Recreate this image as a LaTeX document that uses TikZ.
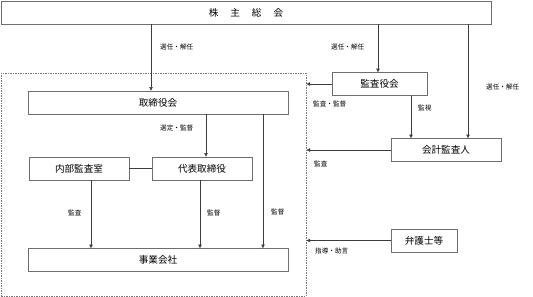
\documentclass[tikz,border=0pt]{standalone}
\usepackage{fontspec}
\newfontfamily\jp{Noto Sans CJK JP}
\usetikzlibrary{arrows.meta, positioning}
\definecolor{DG}{RGB}{60,60,60}
\definecolor{BD}{RGB}{110,110,110}

\begin{document}
\begin{tikzpicture}[x=1pt, y=-1pt,
  box/.style={draw=BD, line width=0.8pt, fill=white,
              minimum width=#1, minimum height=23pt, inner sep=0pt,
              font=\jp\fontsize{9.6}{10}\selectfont},
  arr/.style={-{Triangle[length=3.5pt, width=3.5pt]}, line width=0.5pt, draw=DG},
  lnk/.style={line width=0.5pt, draw=DG},
  lbl/.style={font=\jp\fontsize{6.6}{7}\selectfont, text=black, anchor=west, inner sep=0pt},
  grpbox/.style={draw=DG!70, dashed, dash pattern=on 1.5pt off 1pt, line width=0.6pt}
]
\useasboundingbox (0,0) rectangle (533,297);

% Group (dashed)
\node[grpbox, minimum width=305pt, minimum height=223pt, inner sep=0pt, anchor=north west]
  (grp) at (1,73) {};

% Boxes
\node[box=490pt]  (top)  at (246,12.5)  {株\hspace{12pt}主\hspace{12pt}総\hspace{12pt}会};
\node[box=260pt]  (board) at (158,102.5) {取締役会};
\node[box=95pt]   (audit) at (379.5,84)  {監査役会};
\node[box=110pt]  (acct)  at (446,150)   {会計監査人};
\node[box=100pt]  (inner) at (79,168.5)  {内部監査室};
\node[box=100pt]  (rep)   at (202,168.5) {代表取締役};
\node[box=260pt]  (biz)   at (158,260)   {事業会社};
\node[box=66pt]   (law)   at (424,240.5) {弁護士等};

% Connector points
\coordinate (bIn)  at ([xshift=-7pt]board.north);
\coordinate (aIn)  at ([xshift=-1.5pt]audit.north);
\coordinate (cIn)  at ([xshift=22pt]acct.north);
\coordinate (cIn2) at ([xshift=-35pt]acct.north);
\coordinate (rIn)  at ([xshift=4pt]rep.north);
\coordinate (zIn1) at ([xshift=-67pt]biz.north);
\coordinate (zIn2) at ([xshift=42pt]biz.north);
\coordinate (zIn3) at ([xshift=105pt]biz.north);

\draw[arr] (bIn |- top.south) -- (bIn);
\draw[arr] (aIn |- top.south) -- (aIn);
\draw[arr] (cIn |- top.south) -- (cIn);
\draw[arr] (cIn2 |- audit.south) -- (cIn2);
\draw[arr] (audit.west) -- (grp.east |- audit.west);
\draw[arr] (acct.west) -- (grp.east |- acct.west);
\draw[arr] (law.west) -- (grp.east |- law.west);
\draw[arr] (rIn |- board.south) -- (rIn);
\draw[arr] (zIn3 |- board.south) -- (zIn3);
\draw[arr] (zIn1 |- inner.south) -- (zIn1);
\draw[arr] (zIn2 |- rep.south) -- (zIn2);
\draw[lnk] (inner.east) -- (rep.west);

% Labels
\node[lbl] (l1)  at (160,47)  {選任・解任};
\node[lbl] (l2)  at (331,47)  {選任・解任};
\node[lbl] (l3)  at (486,87)  {選任・解任};
\node[lbl] (l4)  at (160,128) {選定・監督};
\node[lbl] (l5)  at (313,104) {監査・監督};
\node[lbl] (l6)  at (418,108) {監視};
\node[lbl] (l7)  at (314,164) {監査};
\node[lbl] (l8)  at (68,213)  {監査};
\node[lbl] (l9)  at (207,213) {監督};
\node[lbl] (l10) at (271,212) {監督};
\node[lbl] (l11) at (315,251) {指導・助言};
\end{tikzpicture}
\end{document}
